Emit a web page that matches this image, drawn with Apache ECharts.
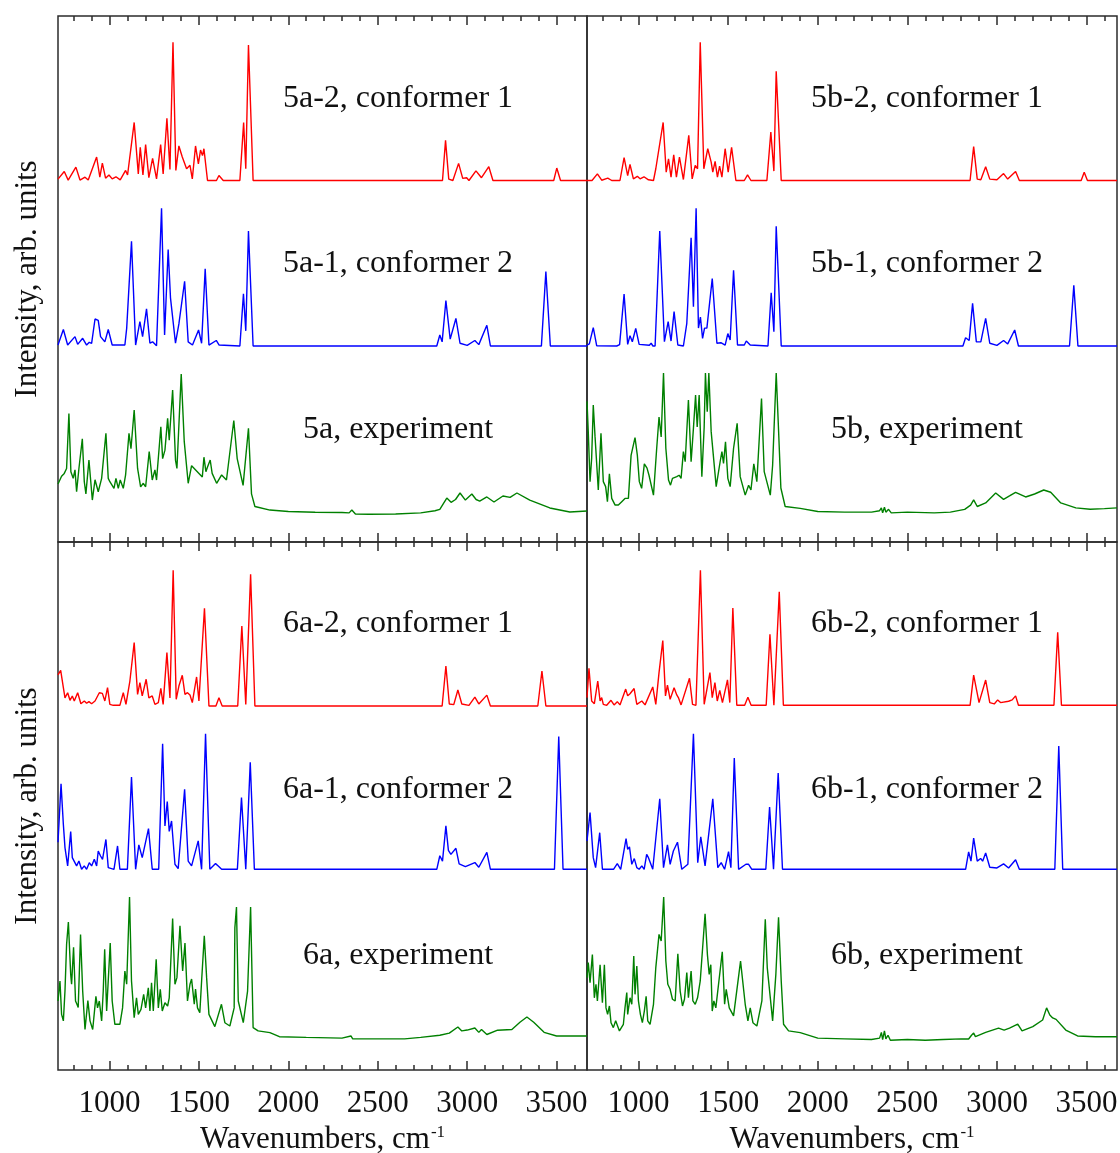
<!DOCTYPE html>
<html><head><meta charset="utf-8">
<script src="https://cdn.jsdelivr.net/npm/echarts@6/dist/echarts.min.js"></script>
<style>html,body{margin:0;padding:0;background:#fff}#c{width:1120px;height:1153px}</style>
</head><body><div id="c"></div>
<script>
// ---- axis range and tick labels (wavenumbers, cm^-1) ----
const xMin = 712, xMax = 3670;
const majorTicks = [1000, 1500, 2000, 2500, 3000, 3500];
const minorTicks = [800, 900, 1100, 1200, 1300, 1400, 1600, 1700, 1800, 1900, 2100, 2200, 2300, 2400, 2600, 2700, 2800, 2900, 3100, 3200, 3300, 3400, 3600];

// ---- panel labels ----
const labels5a = ['5a-2, conformer 1', '5a-1, conformer 2', '5a, experiment'];
const labels5b = ['5b-2, conformer 1', '5b-1, conformer 2', '5b, experiment'];
const labels6a = ['6a-2, conformer 1', '6a-1, conformer 2', '6a, experiment'];
const labels6b = ['6b-2, conformer 1', '6b-1, conformer 2', '6b, experiment'];
const yTitle = 'Intensity, arb. units';

// ---- spectra: [wavenumber, relative intensity] ----
const r5a = [[712,1],[720,1.2],[747,6.5],[769,0.3],[812,9.7],[835,0.3],[863,2.4],[881,0.3],[928,17],[946,2.4],[960,12.6],[978,1.7],[997,4],[1015,1.2],[1036,2.7],[1060,0.5],[1090,7.3],[1101,4],[1138,42],[1161,4.8],[1172,24],[1187,4],[1202,26],[1220,2],[1241,16],[1263,1.2],[1286,26],[1300,4.8],[1321,45],[1338,8],[1355,100],[1371,7.3],[1388,25],[1407,17],[1431,8.5],[1450,11],[1463,1.2],[1481,25],[1497,12],[1509,22],[1520,18],[1528,23],[1548,0],[1598,0],[1612,3.6],[1636,0],[1729,0],[1750,42],[1762,8.5],[1777,98],[1803,0],[2862,0],[2879,29],[2897,1],[2920,0],[2952,12.4],[2975,1.5],[2997,2],[3010,0],[3049,7],[3080,2],[3121,10],[3144,0],[3484,0],[3501,9],[3522,0],[3670,0]];
const b5a = [[712,0.7],[720,2],[742,12],[766,0.7],[807,6.8],[822,1.2],[850,5.6],[872,0.7],[887,2.7],[900,1.9],[919,19.6],[937,18.6],[950,6.8],[960,8],[974,3],[993,12],[1015,0.7],[1086,0.7],[1096,12.8],[1105,14],[1123,76],[1146,0.7],[1170,17.7],[1185,6.8],[1207,27],[1226,2],[1241,3],[1263,0.2],[1291,100],[1308,8],[1328,70],[1341,35],[1351,33.9],[1369,2],[1388,16],[1420,47],[1440,3],[1464,0.7],[1498,11.6],[1515,2],[1535,56],[1556,0.7],[1597,4],[1613,0.7],[1729,0],[1749,38],[1762,11],[1777,83.5],[1803,0],[2830,0],[2847,8],[2860,3],[2881,33],[2905,5],[2937,20],[2960,2],[3000,0.5],[3043,4],[3065,1],[3110,15],[3130,0],[3415,0],[3440,54],[3465,0],[3670,0]];
const g5a = [[712,22],[714,22.5],[732,27.5],[747,29.5],[760,33],[773,72],[784,30.7],[797,26],[807,32],[816,16.5],[829,33],[848,54],[859,23.6],[868,15],[885,39],[904,10.6],[919,25],[937,16.5],[956,26],[980,58],[993,26],[1002,23.6],[1012,24.8],[1025,18.9],[1036,26],[1049,18.9],[1060,24.8],[1077,18.9],[1090,28.4],[1109,58],[1120,47],[1138,74.5],[1157,33],[1174,20],[1189,22.5],[1202,20],[1222,45],[1239,24.8],[1254,32],[1263,24.8],[1276,45],[1287,62.6],[1297,40],[1310,46],[1325,68.5],[1334,53],[1353,88.6],[1369,39],[1377,33],[1401,100],[1418,52],[1440,22.5],[1459,35],[1519,27],[1528,41],[1539,30.7],[1548,34],[1563,39],[1574,29.5],[1599,22.5],[1627,28.4],[1654,24.8],[1695,67],[1714,40],[1747,21],[1777,61.5],[1794,15],[1813,6],[1897,3.5],[2000,2.5],[2150,2],[2300,1.8],[2340,1.5],[2355,3.5],[2375,0.7],[2450,0.5],[2600,0.7],[2740,1.5],[2820,3],[2847,4],[2886,12],[2910,9],[2935,11],[2960,15.6],[2990,10.6],[3026,14.9],[3050,11],[3070,9.9],[3110,12.8],[3150,9.2],[3200,13.5],[3240,12.5],[3278,15.6],[3350,10.6],[3462,5],[3574,2.1],[3670,2.8]];

const r5b = [[712,0],[740,0],[770,4.8],[794,0.2],[828,1.7],[850,0],[896,0],[919,16.5],[939,3.6],[952,11.6],[971,1.2],[993,3],[1008,1.2],[1030,2.7],[1055,0.5],[1083,0],[1096,8.5],[1107,7.3],[1137,42],[1154,6],[1167,15.7],[1181,2.4],[1196,18.6],[1211,2.4],[1228,17],[1250,0.7],[1280,32.7],[1299,1.2],[1316,11],[1329,8.5],[1344,100],[1364,8.5],[1386,23],[1405,13.3],[1414,6],[1427,13.8],[1440,2.4],[1452,10.4],[1465,2.4],[1483,23],[1500,6],[1519,24],[1543,0],[1590,0],[1608,4],[1627,0],[1716,0],[1738,35],[1755,6.8],[1768,79],[1796,0],[2850,0],[2870,24.5],[2890,1],[2910,0.5],[2937,10],[2960,1],[3000,0.5],[3037,5],[3060,1],[3104,6.5],[3125,0],[3470,0],[3487,6],[3505,0],[3670,0]];
const b5b = [[712,0.7],[725,1.5],[747,13.3],[766,0.2],[878,0],[894,1],[919,37.8],[939,1.2],[952,7.5],[965,3.1],[984,12.8],[1003,1.2],[1060,0.5],[1070,2],[1080,0],[1092,0],[1118,83.5],[1144,3.1],[1165,17.7],[1181,3.6],[1198,25],[1219,0.7],[1250,0],[1269,16.5],[1293,78.6],[1306,28.5],[1321,100],[1334,13],[1345,21],[1357,5.5],[1368,13],[1381,13],[1411,49],[1437,2],[1459,2.4],[1483,0.7],[1498,9],[1511,4.4],[1530,55],[1552,0.7],[1590,0.7],[1601,3.6],[1623,0.7],[1722,0],[1740,38.7],[1755,10.4],[1768,87],[1796,0],[2810,0],[2825,6],[2845,4],[2864,31],[2885,3],[2910,3],[2937,20],[2960,2],[3000,0.5],[3037,4],[3060,1.5],[3099,11.6],[3120,0],[3405,0],[3429,44],[3452,0],[3670,0]];
const g5b = [[712,80],[719,58.7],[729,23.5],[738,40],[747,77.5],[757,55],[766,55],[775,17.6],[790,57.5],[803,23.5],[816,20],[826,9.4],[837,29],[850,11.7],[869,7],[887,7],[906,9.4],[924,11.7],[943,11.7],[958,42],[980,54.5],[993,42],[1004,23.5],[1017,18.8],[1032,36],[1047,33],[1058,28],[1083,14],[1101,47],[1114,69],[1126,55],[1139,100],[1152,47],[1167,24.6],[1178,21],[1189,25.8],[1200,24.6],[1213,27],[1226,28],[1237,25.8],[1250,44.6],[1260,37.5],[1278,81],[1293,37.5],[1306,61],[1318,84.5],[1327,62],[1338,84.5],[1353,27],[1366,62],[1373,100],[1383,72.8],[1392,100],[1405,58.7],[1433,20],[1455,37.5],[1465,44.6],[1474,36.4],[1485,51.6],[1498,25.8],[1511,20],[1530,47],[1550,64.5],[1567,27],[1595,14],[1614,21],[1627,17.6],[1643,36],[1660,23.5],[1670,24.6],[1686,82],[1701,30.5],[1735,14],[1748,35],[1768,100],[1781,60],[1794,19],[1818,6],[1902,4.7],[2000,2.5],[2150,2],[2300,2],[2345,3],[2355,5],[2362,1.5],[2372,5.5],[2380,2],[2395,4],[2410,1.5],[2500,2],[2650,1.5],[2740,2],[2820,4],[2853,7],[2870,10.6],[2890,6],[2937,8.5],[2993,15.5],[3037,11],[3070,13.4],[3104,16],[3160,12.7],[3210,14.8],[3261,17.6],[3300,16],[3356,8.5],[3440,5],[3520,4],[3600,4.5],[3670,5]];

const r6a = [[712,23],[714,23.3],[727,26.3],[742,13.5],[751,6],[766,9.8],[779,4.2],[792,7.4],[803,3.7],[822,9.8],[840,1.7],[859,3.7],[872,2],[885,3.2],[900,1.7],[919,3.7],[943,9.8],[960,9.3],[974,3.7],[989,13.5],[1002,1.2],[1021,0.5],[1058,0.5],[1077,9.8],[1092,1.2],[1114,18.4],[1138,46.7],[1157,8.6],[1170,17.2],[1183,7.4],[1205,19.7],[1220,6],[1239,7.4],[1254,1.2],[1273,2.5],[1287,13],[1300,1.2],[1321,39.3],[1338,6],[1356,100],[1373,4.9],[1388,14.7],[1407,22.6],[1422,8.6],[1436,9.8],[1450,8.1],[1463,2.5],[1487,21.4],[1500,3.7],[1531,72],[1556,0],[1595,0],[1612,6],[1630,0],[1717,0],[1740,59],[1762,1.2],[1789,97],[1813,0],[2860,0],[2881,29.5],[2900,1.5],[2925,1],[2948,11.8],[2970,1.5],[3010,0.5],[3043,6.6],[3065,1.5],[3110,8],[3130,0],[3395,0],[3418,25.8],[3440,0],[3670,0]];
const b6a = [[712,20],[729,63],[742,33],[751,16],[766,2.5],[783,27.8],[792,8.6],[803,7.4],[816,2.5],[829,6.1],[844,0],[859,2.5],[872,0],[887,4.9],[900,2.5],[915,7.4],[928,2.5],[937,13.5],[950,9.8],[961,7.4],[980,22],[993,1.2],[1025,0],[1045,17.2],[1058,0],[1100,0],[1123,68],[1146,0],[1164,18],[1183,8.6],[1218,30],[1239,0],[1275,0],[1297,92.6],[1310,32],[1323,50],[1334,28],[1347,35.6],[1366,3.7],[1384,0.5],[1420,59],[1440,6.1],[1459,2.5],[1496,21],[1515,0],[1537,100],[1561,0],[1593,4.2],[1608,2.5],[1627,0],[1715,0],[1738,53],[1762,0],[1787,79],[1810,0],[2830,0],[2847,10],[2862,6],[2881,32],[2895,14],[2909,11],[2920,12],[2937,15.5],[2955,4],[2990,2],[3043,5],[3065,1.5],[3110,12.5],[3130,0],[3488,0],[3512,98],[3536,0],[3670,0]];
const g6a = [[712,27.8],[723,41.7],[732,18.5],[742,14],[751,34.7],[760,67],[770,82.6],[783,46.3],[788,39.4],[799,65],[810,27.8],[818,25.5],[825,23.2],[838,74],[850,34.7],[863,8],[879,28],[891,14],[906,8],[924,31],[933,23],[943,27.8],[956,14],[965,34.7],[973,63.7],[984,20.8],[1004,68],[1015,27.8],[1030,11.6],[1058,11.6],[1073,23],[1086,48.6],[1096,39.4],[1112,100],[1123,41.7],[1138,16.2],[1151,30],[1161,18.5],[1176,22],[1191,32.4],[1202,23],[1217,37],[1226,20.8],[1235,40.5],[1245,20.8],[1261,56.7],[1273,23],[1284,35.9],[1295,20.8],[1310,26.6],[1325,24.3],[1334,30],[1353,85],[1366,39.4],[1377,44],[1394,80],[1409,48.6],[1422,68],[1436,27.8],[1450,39.4],[1459,43],[1474,25.5],[1481,36],[1492,23],[1505,19.7],[1515,41.7],[1530,73],[1543,44],[1556,18.5],[1589,10],[1626,25.5],[1645,12.7],[1673,10.4],[1697,23],[1701,78.7],[1710,93],[1720,27.8],[1748,12.7],[1772,34.7],[1789,93],[1803,9.3],[1831,7],[1897,5.8],[1950,3],[2100,2.5],[2300,2],[2350,3.5],[2360,1.5],[2500,1.5],[2650,1.5],[2740,2.5],[2847,4],[2900,5.5],[2948,9.7],[2970,7],[3000,7.6],[3043,9],[3065,6],[3080,8],[3110,4.5],[3170,7.5],[3250,8],[3295,13],[3334,16.7],[3372,13],[3430,6],[3500,3.5],[3670,3.5]];

const r6b = [[712,5.7],[723,27.4],[738,3.2],[753,1.2],[772,18],[785,3.2],[794,5.7],[803,0.7],[822,0],[846,3.7],[863,0.3],[881,2.7],[896,0.3],[928,12],[939,7],[952,8.6],[975,12.4],[990,0.7],[1018,3.2],[1036,0.3],[1079,13.6],[1096,0.7],[1114,24.2],[1135,48],[1150,7],[1161,15],[1176,4.4],[1198,13],[1213,7.7],[1222,5.7],[1237,0.3],[1284,20],[1301,0.7],[1320,0],[1345,100],[1366,0.7],[1398,24.2],[1411,5.7],[1426,16.8],[1439,3.2],[1453,11],[1468,2],[1496,18.8],[1509,2],[1526,72],[1548,0],[1592,0],[1610,6],[1628,0],[1712,0],[1733,52.6],[1755,0],[1785,84],[1808,0],[2850,0],[2870,22.4],[2900,2],[2937,18.7],[2960,2],[2985,1],[3004,4],[3020,2],[3065,3],[3085,4],[3104,7],[3120,0],[3318,0],[3339,54],[3360,0],[3670,0]];
const b6b = [[712,20.9],[729,41.8],[747,8.6],[760,1.2],[783,27],[798,0],[860,0],[881,4.2],[900,0],[930,22.6],[939,14.7],[949,16.5],[962,3.7],[976,7.9],[990,1.2],[1003,0],[1018,2.5],[1031,0],[1045,11],[1055,8.6],[1064,9.1],[1079,0],[1118,52],[1139,1.2],[1161,18],[1176,3.7],[1194,13.5],[1217,20],[1241,0],[1275,3.7],[1306,100],[1330,4.9],[1347,24],[1371,2.5],[1414,52],[1442,1.2],[1461,4.9],[1480,0],[1502,13],[1515,1.2],[1534,82],[1558,0],[1599,3.7],[1614,3.7],[1632,0],[1710,0],[1731,46],[1753,0],[1779,71],[1803,0],[2825,0],[2842,12.8],[2855,6],[2870,23],[2890,6],[2909,8],[2920,6],[2937,12],[2960,1.5],[3000,1],[3037,4],[3065,1],[3104,7],[3125,0],[3323,0],[3345,91],[3367,0],[3670,0]];
const g6b = [[712,44],[719,54.4],[729,40.5],[742,60],[753,30],[762,39.4],[770,27.8],[785,53],[798,26.6],[809,53],[818,23],[827,18.5],[837,24.3],[846,12.7],[859,9.3],[872,14],[893,7],[915,11.6],[924,23],[934,33.6],[939,18.5],[952,30],[962,25.5],[973,59],[980,32.4],[990,52],[999,27.8],[1010,18.5],[1021,12.7],[1032,20.8],[1042,31],[1051,14],[1064,11.6],[1083,25.5],[1096,51],[1114,74],[1126,69.5],[1140,100],[1152,55.6],[1163,39.4],[1176,35.9],[1189,29],[1204,27.8],[1219,60.6],[1232,34.7],[1245,24.3],[1256,29],[1269,47.5],[1278,30],[1293,48.6],[1303,27.8],[1316,25.5],[1329,30],[1344,41.7],[1371,88.4],[1384,60],[1394,46.3],[1403,53],[1411,20.8],[1420,27.8],[1431,23],[1467,62],[1480,25.5],[1489,35.9],[1494,34.7],[1506,23],[1530,17.4],[1569,55.5],[1595,25.5],[1610,14],[1623,23],[1638,12.7],[1660,10.4],[1688,27.8],[1707,84.5],[1718,51],[1748,14],[1766,46.3],[1781,86],[1796,41.7],[1809,11.6],[1837,7],[1902,5.8],[2000,2],[2150,1.5],[2300,1],[2345,2],[2355,6],[2362,1],[2372,7],[2380,1.5],[2392,4],[2405,0.5],[2500,1],[2600,0.5],[2700,1],[2800,1.5],[2842,1.4],[2858,4],[2870,5.5],[2880,3],[2937,6],[3009,9],[3040,7.6],[3070,9],[3116,11.8],[3140,7],[3200,10],[3255,14.6],[3277,23],[3295,18],[3311,16],[3330,15],[3384,7.6],[3450,3.5],[3550,3],[3670,3]];

// ---- layout (pixels) ----
const FONT = "'Liberation Serif', 'Times New Roman', serif";
const colors = ['#ff0000', '#0000ff', '#008000'];
const panels = [
  { rect: [58, 16, 529, 526], labels: labels5a, data: [r5a, b5a, g5a], bands: [[180.5, 42.3], [346, 208.3], [515, 374]], labelY: [99, 264, 430], bottomLabels: false },
  { rect: [587, 16, 530, 526], labels: labels5b, data: [r5b, b5b, g5b], bands: [[180.5, 42.3], [346, 208.3], [515, 373]], labelY: [99, 264, 430], bottomLabels: false },
  { rect: [58, 542, 529, 528], labels: labels6a, data: [r6a, b6a, g6a], bands: [[706, 570.3], [869.3, 733.7], [1041, 897]], labelY: [624, 790, 956], bottomLabels: true },
  { rect: [587, 542, 530, 528], labels: labels6b, data: [r6b, b6b, g6b], bands: [[705.3, 570.3], [869.3, 733.7], [1041, 897]], labelY: [624, 790, 956], bottomLabels: true }
];

const grid = [], xAxis = [], yAxis = [], series = [], graphic = [];
const tickColor = '#2b2b2b';
const mkX = (g, pos, vals, len, lab) => ({
  type: 'value', gridIndex: g, min: xMin, max: xMax, position: pos,
  axisLine: { show: false, onZero: false }, splitLine: { show: false },
  axisTick: { show: true, inside: true, length: len, customValues: vals, lineStyle: { color: tickColor, width: 1.5 } },
  axisLabel: lab ? { show: true, customValues: majorTicks, formatter: v => String(v), margin: 18, color: '#111', fontSize: 31, fontFamily: FONT } : { show: false }
});
panels.forEach(p => {
  const [L, T, W, H] = p.rect;
  // main grid: frame, major ticks, spectra
  const g = grid.length;
  grid.push({ left: L, top: T, width: W, height: H, show: true, borderColor: tickColor, borderWidth: 1.5, backgroundColor: 'transparent', outerBoundsMode: 'none', containLabel: false });
  const xi = xAxis.length;
  xAxis.push(mkX(g, 'bottom', majorTicks, 9, p.bottomLabels));
  xAxis.push(mkX(g, 'top', majorTicks, 9, false));
  p.bands.forEach((b, k) => {
    const f0 = (T + H - b[0]) / H, f1 = (T + H - b[1]) / H;
    const span = 100 / (f1 - f0);
    yAxis.push({ type: 'value', gridIndex: g, show: false, min: -f0 * span, max: (1 - f0) * span, splitLine: { show: false }, axisLine: { onZero: false } });
    series.push({
      type: 'line', xAxisIndex: xi, yAxisIndex: yAxis.length - 1, data: p.data[k],
      showSymbol: false, symbol: 'none', clip: true, silent: true,
      lineStyle: { color: colors[k], width: 1.4 }
    });
    graphic.push({ type: 'text', x: L + 340, y: p.labelY[k], silent: true,
      style: { text: p.labels[k], font: '32px ' + FONT, fill: '#111', align: 'center', verticalAlign: 'middle' } });
  });
  // overlay grid: minor ticks only
  const g2 = grid.length;
  grid.push({ left: L, top: T, width: W, height: H, show: false, outerBoundsMode: 'none', containLabel: false });
  xAxis.push(mkX(g2, 'bottom', minorTicks, 5, false));
  xAxis.push(mkX(g2, 'top', minorTicks, 5, false));
  yAxis.push({ type: 'value', gridIndex: g2, show: false, min: 0, max: 1, axisLine: { onZero: false } });
});
// y titles
[279, 806].forEach(cy => graphic.push({ type: 'text', x: 28, y: cy, rotation: Math.PI / 2, silent: true,
  style: { text: yTitle, font: '31px ' + FONT, fill: '#111', align: 'center', verticalAlign: 'middle' } }));
// x titles
[322.5, 852].forEach(cx => graphic.push({ type: 'text', x: cx, y: 1140, silent: true,
  style: { text: '{a|Wavenumbers, cm}{s|-1}', align: 'center', verticalAlign: 'middle', fill: '#111',
    rich: { a: { font: '31px ' + FONT, fill: '#111', verticalAlign: 'bottom' }, s: { font: '17px ' + FONT, fill: '#111', verticalAlign: 'top', padding: [0, 0, 14, 1] } } } }));

const chart = echarts.init(document.getElementById('c'), null, { renderer: 'canvas' });
chart.setOption({ animation: false, backgroundColor: '#fff', grid, xAxis, yAxis, series, graphic });
</script></body></html>
